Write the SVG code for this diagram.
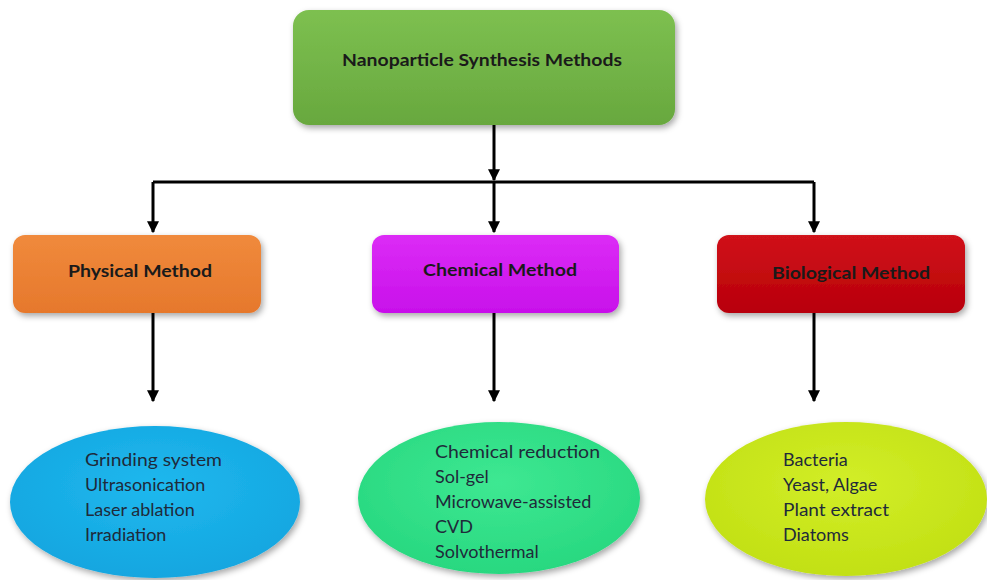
<svg xmlns="http://www.w3.org/2000/svg" width="987" height="580" viewBox="0 0 987 580">
<defs>
<style>
.t{font-family:"Lato","Open Sans","Liberation Sans",sans-serif;font-weight:bold;font-size:17px;fill:#1a1a1a;text-anchor:middle}
.l{font-family:"Lato","Open Sans","Liberation Sans",sans-serif;font-size:18px;fill:#1f2a3a}
.c{stroke:#000;stroke-width:3;fill:none}
</style>
<marker id="ah" viewBox="0 0 10 10" refX="9" refY="5" markerWidth="4" markerHeight="4" orient="auto" markerUnits="strokeWidth">
<path d="M0,0 L10,5 L0,10 z" fill="#000"/>
</marker>
<filter id="sh" x="-10%" y="-10%" width="125%" height="130%">
<feDropShadow dx="2" dy="3" stdDeviation="3" flood-color="#000" flood-opacity="0.35"/>
</filter>
<linearGradient id="gG" x1="0" y1="0" x2="0" y2="1"><stop offset="0" stop-color="#7dc050"/><stop offset="1" stop-color="#68a83e"/></linearGradient>
<linearGradient id="gO" x1="0" y1="0" x2="0" y2="1"><stop offset="0" stop-color="#f08a3c"/><stop offset="1" stop-color="#e6782c"/></linearGradient>
<linearGradient id="gM" x1="0" y1="0" x2="0" y2="1"><stop offset="0" stop-color="#dc2cf6"/><stop offset="1" stop-color="#c810ea"/></linearGradient>
<linearGradient id="gR" x1="0" y1="0" x2="0" y2="1"><stop offset="0" stop-color="#d0121a"/><stop offset="1" stop-color="#b80008"/></linearGradient>
<radialGradient id="eB" cx="0.5" cy="0.4" r="0.6"><stop offset="0" stop-color="#1fb8ee"/><stop offset="1" stop-color="#14a6e0"/></radialGradient>
<radialGradient id="eC" cx="0.5" cy="0.4" r="0.6"><stop offset="0" stop-color="#3ee892"/><stop offset="1" stop-color="#28d880"/></radialGradient>
<radialGradient id="eL" cx="0.5" cy="0.4" r="0.6"><stop offset="0" stop-color="#d2ee28"/><stop offset="1" stop-color="#c2e014"/></radialGradient>
</defs>
<rect width="987" height="580" fill="#fff"/>
<g id="connectors">
<path class="c" d="M494,125 V180" marker-end="url(#ah)"/>
<path class="c" d="M153,182 H814"/>
<path class="c" d="M153,182 V232" marker-end="url(#ah)"/>
<path class="c" d="M494,182 V232" marker-end="url(#ah)"/>
<path class="c" d="M814,182 V232" marker-end="url(#ah)"/>
<path class="c" d="M153,313 V401" marker-end="url(#ah)"/>
<path class="c" d="M494,313 V401" marker-end="url(#ah)"/>
<path class="c" d="M814,313 V401" marker-end="url(#ah)"/>
</g>
<g id="root">
<rect x="293" y="10" width="382" height="115" rx="16" fill="url(#gG)" filter="url(#sh)"/>
<text class="t" x="482" y="66" textLength="280" lengthAdjust="spacingAndGlyphs">Nanoparticle Synthesis Methods</text>
</g>
<g id="physical">
<rect x="13" y="235" width="248" height="78" rx="12" fill="url(#gO)" filter="url(#sh)"/>
<text class="t" x="140" y="277" textLength="144" lengthAdjust="spacingAndGlyphs">Physical Method</text>
</g>
<g id="chemical">
<rect x="372" y="235" width="247" height="78" rx="12" fill="url(#gM)" filter="url(#sh)"/>
<text class="t" x="500" y="276" textLength="154" lengthAdjust="spacingAndGlyphs">Chemical Method</text>
</g>
<g id="biological">
<rect x="717" y="235" width="248" height="78" rx="12" fill="url(#gR)" filter="url(#sh)"/>
<text class="t" x="851" y="279" textLength="158" lengthAdjust="spacingAndGlyphs">Biological Method</text>
</g>
<g id="physical-list">
<ellipse cx="155" cy="502" rx="145" ry="76" fill="url(#eB)" filter="url(#sh)"/>
<text class="l" x="85" y="466" textLength="137" lengthAdjust="spacingAndGlyphs">Grinding system</text>
<text class="l" x="85" y="491">Ultrasonication</text>
<text class="l" x="85" y="516">Laser ablation</text>
<text class="l" x="85" y="541">Irradiation</text>
</g>
<g id="chemical-list">
<ellipse cx="499" cy="498" rx="141" ry="76" fill="url(#eC)" filter="url(#sh)"/>
<text class="l" x="435" y="458" textLength="165" lengthAdjust="spacingAndGlyphs">Chemical reduction</text>
<text class="l" x="435" y="483">Sol-gel</text>
<text class="l" x="435" y="508">Microwave-assisted</text>
<text class="l" x="435" y="533">CVD</text>
<text class="l" x="435" y="558">Solvothermal</text>
</g>
<g id="biological-list">
<ellipse cx="846" cy="499" rx="141" ry="77" fill="url(#eL)" filter="url(#sh)"/>
<text class="l" x="783" y="466">Bacteria</text>
<text class="l" x="783" y="491">Yeast, Algae</text>
<text class="l" x="783" y="516" textLength="106" lengthAdjust="spacingAndGlyphs">Plant extract</text>
<text class="l" x="783" y="541">Diatoms</text>
</g>
</svg>
